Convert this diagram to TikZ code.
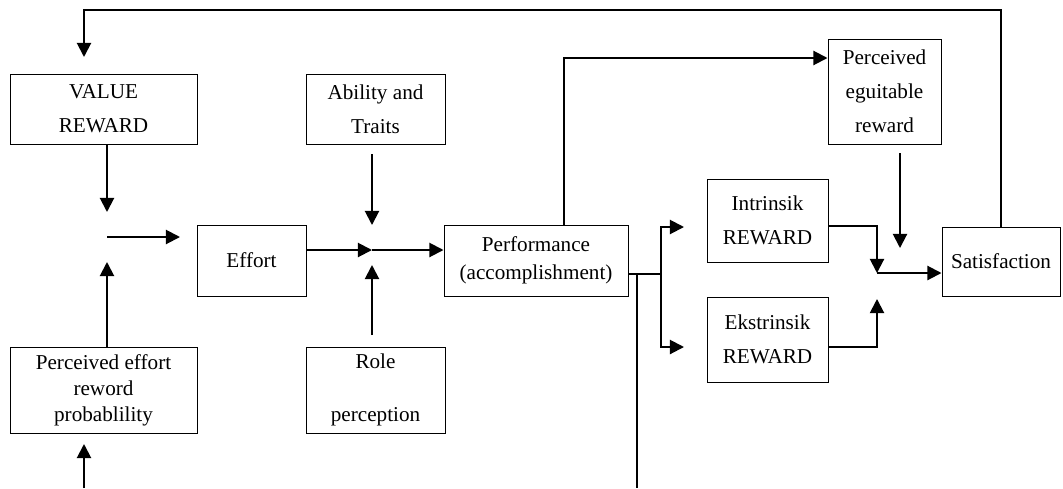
\documentclass[tikz,border=0pt]{standalone}
\usepackage{fontspec}
\setmainfont{Liberation Serif}
\usetikzlibrary{arrows.meta}

\begin{document}
\begin{tikzpicture}[x=0.6pt, y=-0.6pt, >={Triangle[length=8.5pt, width=8.5pt]}, line width=1.2pt,
		box/.style={draw, line width=0.6pt, align=center, inner sep=2pt, font=\fontsize{12.7}{20.5}\selectfont}]
		\useasboundingbox (0,0) rectangle (1063,488);
		
		\node[box, minimum width=112.2pt, minimum height=42pt] (value) at (103.5,109) {VALUE\\REWARD};
		\node[box, minimum width=83.4pt, minimum height=42pt] (ability) at (375.5,109) {Ability and\\Traits};
		\node[box, minimum width=65.4pt, minimum height=42.6pt] (effort) at (251.5,260.5) {Effort};
		\node[box, minimum width=112.2pt, minimum height=51.6pt, font=\fontsize{12.7}{15.5}\selectfont] (peffort) at (103.5,390) {Perceived effort\\reword\\probablility};
		\node[box, minimum width=83.4pt, minimum height=51.6pt] (role) at (375.5,390) {Role\\[11pt]perception};
		\node[box, minimum width=110.4pt, minimum height=42.6pt, font=\fontsize{12.7}{16.5}\selectfont] (perf) at (536,260.5) {Performance\\(accomplishment)};
		\node[box, minimum width=67.8pt, minimum height=63pt] (equit) at (884.5,91.5) {Perceived\\eguitable\\reward};
		\node[box, minimum width=72.6pt, minimum height=49.8pt] (intr) at (767.5,220.5) {Intrinsik\\REWARD};
		\node[box, minimum width=72.6pt, minimum height=51pt] (ekstr) at (767.5,339.5) {Ekstrinsik\\REWARD};
		\node[box, minimum width=70.8pt, minimum height=41.4pt] (satis) at (1001,261.5) {Satisfaction};
		
		\coordinate (top) at (84,10);
		\coordinate (fb) at (84,57);
		\coordinate (vr) at (107,212);
		\coordinate (hs) at (107,237);
		\coordinate (he) at (180,237);
		\coordinate (pe) at (107,262);
		\coordinate (bs) at (84,488);
		\coordinate (be) at (84,444);
		\coordinate (as) at (372,154);
		\coordinate (ae) at (372,225);
		\coordinate (rs) at (372,335);
		\coordinate (re) at (372,265);
		\coordinate (ej) at (372,250);
		\coordinate (pu) at (564,58);
		\coordinate (pj) at (661,274);
		\coordinate (pd) at (637,274);
		\coordinate (pb) at (637,488);
		\coordinate (it) at (684,227);
		\coordinate (et) at (684,347);
		\coordinate (qs) at (900,153);
		\coordinate (qe) at (900,248);
		\coordinate (ij) at (877,226);
		\coordinate (sj) at (877,273);
		\coordinate (ek) at (877,347);
		\coordinate (ee) at (877,299);
		
		\draw[->] (satis.north) |- (top) -- (fb);
		\draw[->] (value.south -| vr) -- (vr);
		\draw[->] (hs) -- (he);
		\draw[->] (peffort.north -| pe) -- (pe);
		\draw[->] (bs) -- (be);
		\draw[->] (as) -- (ae);
		\draw[->] (rs) -- (re);
		\draw[->] (effort.east |- ej) -- (ej);
		\draw[->] (ej) -- (perf.west |- ej);
		\draw[->] (perf.north -| pu) |- (equit.west |- pu);
		\draw (perf.east |- pj) -- (pj);
		\draw[->] (pj) |- (it);
		\draw[->] (pj) |- (et);
		\draw (pd) -- (pb);
		\draw[->] (qs) -- (qe);
		\draw[->] (intr.east |- ij) -- (ij) -- (sj);
		\draw[->] (ekstr.east |- ek) -- (ek) -- (ee);
		\draw[->] (sj) -- (satis.west |- sj);
	\end{tikzpicture}
\end{document}
